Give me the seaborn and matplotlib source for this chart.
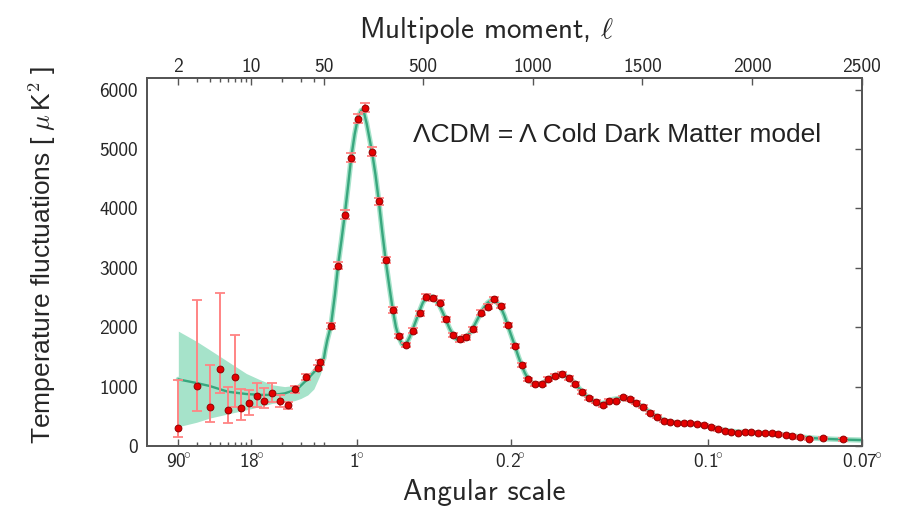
import numpy as np
import matplotlib
matplotlib.use("Agg")
import matplotlib.pyplot as plt
import seaborn as sns

# measured points (Planck-like TT spectrum), ell and D_ell in uK^2
ell = [2, 3, 4, 5, 6, 7, 8, 9.5, 11.3, 13.4, 15.8, 18.8, 22.4, 26.6, 33.9, 43.8, 46.2,
       82, 114, 145, 174, 205, 239, 269, 300, 331, 364, 391, 422, 455, 486, 516, 547,
       577, 607, 638, 668, 699, 729, 763, 795, 825, 856, 886, 920, 950, 980, 1011, 1041,
       1072, 1104, 1134, 1164, 1195, 1226, 1259, 1290, 1320, 1350, 1381, 1411, 1442, 1472,
       1505, 1536, 1566, 1597, 1627, 1657, 1688, 1719, 1749, 1783, 1813, 1845, 1875, 1906,
       1936, 1967, 1997, 2027, 2058, 2089, 2119, 2153, 2183, 2218, 2260, 2321, 2416]
dl = [308, 1009, 651, 1290, 606, 1166, 644, 718, 841, 762, 897, 757, 685, 954, 1166, 1317, 1408,
      2018, 3033, 3897, 4856, 5512, 5697, 4951, 4121, 3129, 2288, 1850, 1699, 1940, 2232, 2512, 2484,
      2411, 2131, 1867, 1795, 1828, 1963, 2242, 2343, 2473, 2355, 2035, 1687, 1362, 1122, 1038, 1043,
      1125, 1177, 1211, 1149, 1043, 913, 802, 745, 690, 762, 762, 819, 786, 728,
      661, 560, 493, 426, 399, 392, 382, 382, 370, 353, 325, 281, 257, 241,
      224, 241, 236, 224, 224, 213, 202, 185, 168, 146, 113, 135, 113]
err_lo = [152, 420, 242, 393, 224, 505, 207, 197, 190, 128, 152, 96, 60, 55, 50, 45, 45,
          50, 60, 70, 75, 80, 80, 75, 60, 50, 45, 40, 40, 40, 40, 40, 40,
          40, 40, 40, 40, 40, 40, 40, 40, 40, 40, 40, 35, 35, 30, 30, 30,
          30, 30, 30, 30, 30, 30, 25, 25, 25, 25, 25, 25, 25, 25,
          25, 25, 25, 20, 20, 20, 20, 20, 20, 20, 20, 20, 20, 20,
          20, 20, 20, 20, 20, 20, 20, 20, 20, 20, 20, 25, 30]
err_hi = [802, 1447, 711, 1279, 391, 701, 310, 224, 214, 209, 158, 101, 60, 55, 50, 45, 45,
          50, 60, 70, 75, 80, 80, 75, 60, 50, 45, 40, 40, 40, 40, 40, 40,
          40, 40, 40, 40, 40, 40, 40, 40, 40, 40, 40, 35, 35, 30, 30, 30,
          30, 30, 30, 30, 30, 30, 25, 25, 25, 25, 25, 25, 25, 25,
          25, 25, 25, 20, 20, 20, 20, 20, 20, 20, 20, 20, 20, 20,
          20, 20, 20, 20, 20, 20, 20, 20, 20, 20, 20, 25, 30]

# best-fit LambdaCDM curve
model_ell = [2, 3, 4, 6, 9, 12, 16, 21, 25, 29, 35, 40, 46, 50, 56, 65, 82, 100, 114, 130,
             145, 160, 174, 190, 205, 220, 232, 245, 258, 269, 285, 300, 315, 331, 348, 364,
             378, 391, 405, 415, 425, 440, 455, 470, 486, 500, 516, 530, 547, 562, 577, 592,
             607, 622, 638, 653, 668, 684, 699, 714, 729, 746, 763, 779, 795, 810, 825, 840,
             856, 871, 886, 903, 920, 935, 950, 965, 980, 995, 1011, 1025, 1041, 1057, 1072,
             1088, 1104, 1120, 1134, 1150, 1164, 1180, 1195, 1210, 1226, 1242, 1259, 1275,
             1290, 1305, 1320, 1335, 1350, 1365, 1381, 1396, 1411, 1426, 1442, 1457, 1472,
             1488, 1505, 1520, 1536, 1551, 1566, 1582, 1597, 1612, 1627, 1657, 1688, 1719,
             1749, 1783, 1813, 1845, 1875, 1906, 1936, 1967, 1997, 2027, 2058, 2089, 2119,
             2153, 2183, 2218, 2260, 2321, 2416, 2500]
model_dl = [1122, 1060, 1010, 913, 875, 862, 858, 886, 930, 990, 1130, 1240, 1360, 1480, 1615,
            1780, 2030, 2550, 3030, 3470, 3900, 4380, 4850, 5250, 5530, 5650, 5620, 5420, 5170,
            4950, 4560, 4120, 3620, 3130, 2680, 2280, 2000, 1830, 1720, 1700, 1720, 1830, 1970,
            2120, 2280, 2410, 2500, 2530, 2500, 2440, 2360, 2240, 2110, 1980, 1870, 1800, 1780,
            1790, 1830, 1900, 1990, 2110, 2230, 2330, 2410, 2450, 2450, 2410, 2330, 2200, 2040,
            1860, 1680, 1510, 1360, 1230, 1130, 1070, 1040, 1035, 1050, 1085, 1125, 1160, 1185,
            1200, 1200, 1180, 1150, 1100, 1045, 980, 915, 855, 800, 765, 740, 722, 718, 735, 765,
            785, 795, 800, 800, 790, 775, 750, 720, 690, 655, 610, 565, 525, 490, 460, 435, 418,
            405, 392, 383, 374, 363, 345, 320, 290, 265, 248, 238, 232, 228, 222, 216, 208, 198,
            186, 172, 155, 138, 122, 108, 100]

# cosmic-variance band at low ell
band_ell = [2, 3, 4, 6, 9, 12, 16, 21, 26, 30, 35, 40, 46, 50, 56]
band_lo = [325, 400, 470, 540, 610, 660, 718, 740, 762, 800, 860, 960, 1200, 1400, 1580]
band_hi = [1934, 1760, 1620, 1420, 1220, 1120, 1030, 1000, 1020, 1060, 1180, 1280, 1400, 1520, 1650]

top_ticks = [2, 10, 50, 500, 1000, 1500, 2000, 2500]
angle_ticks = [2, 10, 200, 900, 1800, 2500]
angle_labels = [r"90$\!\!^\circ$", r"18$\!\!^\circ$", r"1$\!\!^\circ$",
                r"0.2$\!\!^\circ$", r"0.1$\!\!^\circ$", r"0.07$\!\!^\circ$"]
minor_top = [3, 4, 5, 6, 7, 8, 9, 20, 30, 40]
minor_bottom = [3, 4, 5, 6, 7, 8, 9, 20, 30, 40, 50]

LOG_END = 50.0
K = 0.002108  # decades per multipole in the linear part


def fwd(x):
    x = np.asarray(x, dtype=float)
    xc = np.clip(x, 1e-3, None)
    return np.where(x <= LOG_END, np.log10(xc), np.log10(LOG_END) + (x - LOG_END) * K)


def inv(v):
    v = np.asarray(v, dtype=float)
    split = np.log10(LOG_END)
    return np.where(v <= split, 10 ** np.minimum(v, split), LOG_END + (v - split) / K)


sns.set_style("white")
plt.rcParams["font.family"] = ["cmss10", "DejaVu Sans"]
plt.rcParams["mathtext.fontset"] = "cm"
plt.rcParams["axes.unicode_minus"] = False

spine_col = "#555555"
line_col = "#38a77e"
band_col = "#a6e3ca"

fig = plt.figure(figsize=(9, 5.07), dpi=100)
ax = fig.add_axes([0.1633, 0.1203, 0.7944, 0.7253])
ax.set_xscale("function", functions=(fwd, inv))

ax.fill_between(band_ell, band_lo, band_hi, color=band_col, lw=0, zorder=1)
sns.lineplot(x=model_ell, y=model_dl, ax=ax, color=band_col, lw=3.8, zorder=2, sort=False)
sns.lineplot(x=model_ell, y=model_dl, ax=ax, color=line_col, lw=1.7, zorder=3, sort=False)
ax.errorbar(ell, dl, yerr=[err_lo, err_hi], fmt="none", ecolor="#ff8484",
            elinewidth=1.4, capsize=3.5, capthick=1.3, zorder=4)
sns.scatterplot(x=ell, y=dl, ax=ax, color="#e50000", edgecolor="#900000",
                linewidth=0.7, s=24, zorder=5)

ax.set_xlim(1, 2500)
ax.set_ylim(0, 6190)
ax.set_yticks([0, 1000, 2000, 3000, 4000, 5000, 6000],
              labels=["0", "1000", "2000", "3000", "4000", "5000", "6000"])
ax.set_xticks(angle_ticks, labels=angle_labels)
ax.set_xticks(minor_bottom, minor=True)
ax.tick_params(axis="both", which="both", direction="in", color=spine_col, width=1)
ax.tick_params(axis="both", which="major", length=5, labelsize=14)
ax.tick_params(axis="both", which="minor", length=3)
ax.tick_params(axis="x", top=False, pad=5)
ax.tick_params(axis="y", right=True, pad=6.5)

ax2 = ax.twiny()
ax2.set_xscale("function", functions=(fwd, inv))
ax2.set_xlim(1, 2500)
ax2.set_xticks(top_ticks, labels=[str(t) for t in top_ticks])
ax2.set_xticks(minor_top, minor=True)
ax2.tick_params(axis="x", which="both", direction="in", color=spine_col, width=1, pad=1.5)
ax2.tick_params(axis="x", which="major", length=5, labelsize=14)
ax2.tick_params(axis="x", which="minor", length=3)

for a in (ax, ax2):
    for s in a.spines.values():
        s.set_color(spine_col)
        s.set_linewidth(1.3)

ax.set_xlabel("Angular scale", fontsize=21, va="baseline")
ax.xaxis.set_label_coords(0.472, -0.147)
ax2.set_xlabel(r"Multipole moment, $\ell$", fontsize=21, va="baseline")
ax2.xaxis.set_label_coords(0.475, 1.11)
ax.set_ylabel(r"Temperature fluctuations [ $\mu\,$K$^2$ ]", fontsize=19,
              family="Liberation Sans")
ax.yaxis.set_label_coords(-0.1245, 0.519)

ax.text(0.372, 0.8276, "ΛCDM = Λ Cold Dark Matter model", transform=ax.transAxes,
        fontsize=19, family="Liberation Sans", color="#222222", va="baseline")

fig.savefig("out.png", dpi=100, facecolor="white")
